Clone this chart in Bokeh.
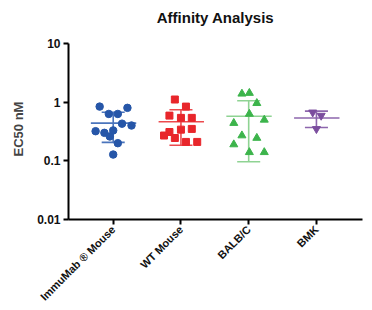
import numpy as np
from bokeh.plotting import figure
from bokeh.models import ColumnDataSource, FixedTicker, Label
from bokeh.embed import file_html
from bokeh.resources import INLINE
from math import pi

title_text = "Affinity Analysis"
y_label = "EC50 nM"
categories = ["ImmuMab \u00ae Mouse", "WT Mouse", "BALB/C", "BMK"]

immumab = [0.84, 0.80, 0.63, 0.63, 0.43, 0.40, 0.32, 0.30, 0.33, 0.26, 0.20, 0.128]
immumab_off = [-0.20, 0.21, -0.065, 0.068, 0.13, 0.27, -0.26, -0.13, 0.0, -0.05, 0.068, 0.0]
wt = [1.11, 0.84, 0.59, 0.54, 0.54, 0.34, 0.35, 0.31, 0.27, 0.245, 0.21, 0.21]
wt_off = [-0.09, 0.074, -0.17, 0.0, 0.16, 0.0, 0.16, -0.17, -0.25, -0.09, 0.074, 0.24]
balb = [1.39, 1.43, 0.96, 0.63, 0.44, 0.50, 0.27, 0.245, 0.19, 0.14, 0.14]
balb_off = [-0.10, 0.01, 0.12, 0.01, -0.22, 0.23, -0.10, 0.12, -0.22, 0.01, 0.23]
bmk = [0.67, 0.59, 0.35]
bmk_off = [-0.055, 0.07, 0.0]

series = [immumab, wt, balb, bmk]
offsets = [immumab_off, wt_off, balb_off, bmk_off]
colors = ["#2656a8", "#e8262b", "#3cb44b", "#7b4d9e"]
line_colors = ["#4a74bc", "#ec4a4e", "#8fd393", "#8d66ad"]
markers = ["circle", "square", "triangle", "inverted_triangle"]
sizes = [7.5, 7, 8, 8]

# frame runs from y=2 to y=219; the axis itself spans 0.01..10 (10 at y=43)
px_per_decade = (219 - 43) / 3.0
y_top = 10 ** (1 + 41 / px_per_decade)
x_lo, x_hi = -0.66, 3.68
p = figure(width=370, height=310, output_backend="svg", toolbar_location=None,
           y_axis_type="log", x_range=(x_lo, x_hi), y_range=(0.01, y_top),
           min_border_left=68, min_border_right=8, min_border_top=2, min_border_bottom=91)
p.outline_line_color = None
p.xgrid.grid_line_color = None
p.ygrid.grid_line_color = None
p.background_fill_color = "white"
p.border_fill_color = "white"

p.add_layout(Label(x=(x_lo + x_hi) / 2, y=10 ** (1 + 26 / px_per_decade), text=title_text,
                   text_align="center", text_baseline="middle", text_font_size="15px",
                   text_font="Liberation Sans", text_font_style="bold", text_color="#111111"))

for i, (vals, offs) in enumerate(zip(series, offsets)):
    arr = np.array(vals)
    m = arr.mean()
    sd = arr.std(ddof=1)
    lc = line_colors[i]
    p.segment(x0=[i - 0.33], x1=[i + 0.34], y0=[m], y1=[m], line_color=lc, line_width=1.6)
    p.segment(x0=[i], x1=[i], y0=[m - sd], y1=[m + sd], line_color=lc, line_width=1.6)
    p.segment(x0=[i - 0.17, i - 0.17], x1=[i + 0.17, i + 0.17], y0=[m - sd, m + sd],
              y1=[m - sd, m + sd], line_color=lc, line_width=1.6)
    src = ColumnDataSource(dict(x=[i + o for o in offs], y=vals))
    p.scatter("x", "y", source=src, marker=markers[i], size=sizes[i],
              fill_color=colors[i], line_color=colors[i])

p.xaxis.ticker = FixedTicker(ticks=[0, 1, 2, 3])
p.xaxis.major_label_overrides = {i: c for i, c in enumerate(categories)}
p.xaxis.major_label_orientation = pi / 4
p.xaxis.minor_tick_line_color = None
p.yaxis.ticker = FixedTicker(ticks=[0.01, 0.1, 1, 10], minor_ticks=[])
p.yaxis.bounds = (0.01, 10)
p.yaxis.major_label_overrides = {0.01: "0.01", 0.1: "0.1", 1: "1", 10: "10"}
# trailing no-break spaces shift the rotated label down to the middle of the 0.01..10 axis
p.yaxis.axis_label = y_label + "\u00a0" * 10
p.yaxis.axis_label_text_font = "Liberation Sans"
p.yaxis.axis_label_text_font_style = "bold"
p.yaxis.axis_label_text_font_size = "13px"
p.yaxis.axis_label_standoff = 8
for ax in (p.xaxis, p.yaxis):
    ax.axis_line_width = 2
    ax.axis_line_color = "black"
    ax.major_tick_line_width = 2
    ax.major_tick_line_color = "black"
    ax.major_tick_out = 5
    ax.major_tick_in = 0
    ax.major_label_text_font = "Liberation Sans"
    ax.major_label_text_font_size = "12px"
    ax.major_label_text_color = "#111111"
    ax.major_label_standoff = 3
p.xaxis.major_label_text_font_size = "11px"
p.xaxis.major_label_text_font_style = "bold"
p.yaxis.major_label_text_font_style = "bold"

open("out.html", "w").write(file_html(p, INLINE))
